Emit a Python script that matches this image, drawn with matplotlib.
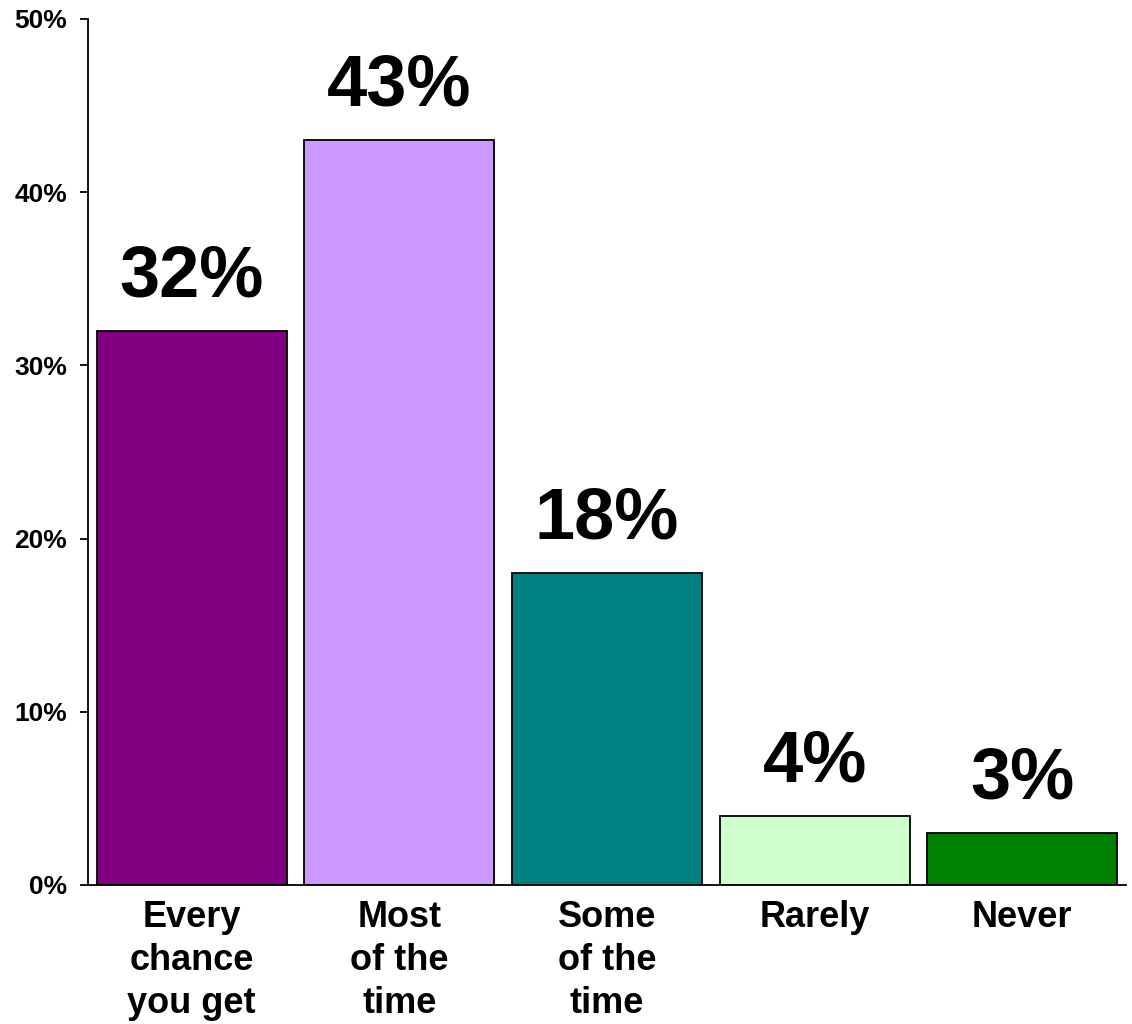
import matplotlib
matplotlib.use("Agg")
import matplotlib.pyplot as plt
from matplotlib.ticker import FuncFormatter, MultipleLocator

categories = ["Every\nchance\nyou get", "Most\nof the\ntime", "Some\nof the\ntime", "Rarely", "Never"]
values = [32, 43, 18, 4, 3]
colors = ["#800080", "#CC99FF", "#008080", "#CCFFCC", "#008000"]

plt.rcParams["font.family"] = ["Liberation Sans", "DejaVu Sans"]
plt.rcParams["font.weight"] = "bold"

fig = plt.figure(figsize=(11.32, 10.24), dpi=100)
ax = fig.add_axes([88 / 1132, 1 - 885 / 1024, (1126 - 88) / 1132, (885 - 19) / 1024])

x = list(range(len(values)))
bars = ax.bar(x, values, width=0.915, color=colors, edgecolor="black", linewidth=1.3)

for xi, v in zip(x, values):
    ax.text(xi, v + 2.0, f"{v}%", ha="center", va="baseline",
            fontsize=52, fontweight="bold")

ax.set_xlim(-0.5, 4.5)
ax.set_ylim(0, 50)
ax.yaxis.set_major_locator(MultipleLocator(10))
ax.yaxis.set_major_formatter(FuncFormatter(lambda v, p: f"{int(v)}%"))

ax.set_xticks(x)
ax.set_xticklabels(categories, fontsize=26, fontweight="bold", linespacing=1.3)
ax.tick_params(axis="x", length=0, pad=11)
ax.tick_params(axis="y", direction="out", length=6, width=1.3, pad=9, labelsize=19)
for lbl in ax.get_yticklabels():
    lbl.set_fontweight("bold")

for side in ("top", "right"):
    ax.spines[side].set_visible(False)
for side in ("left", "bottom"):
    ax.spines[side].set_linewidth(1.3)

fig.savefig("out.png", dpi=100)
